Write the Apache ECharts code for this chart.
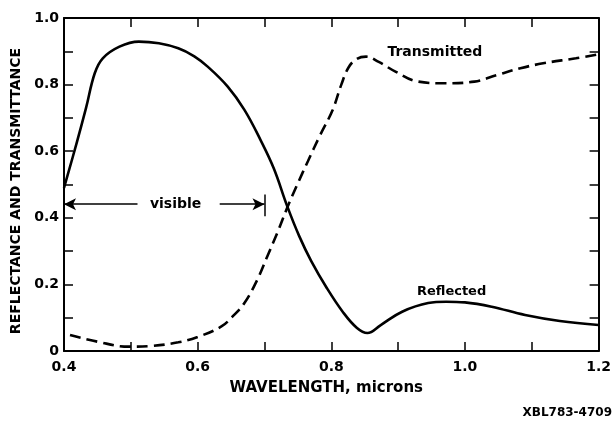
<!DOCTYPE html>
<html>
<head>
<meta charset="utf-8">
<script src="https://cdn.jsdelivr.net/npm/echarts@6/dist/echarts.min.js"></script>
<style>
html,body{margin:0;padding:0;background:#fff;}
#chart{width:614px;height:421px;}
</style>
</head>
<body>
<div id="chart"></div>
<script>
// Wavelength (microns) and values
var reflWave = [0.40,0.419,0.433,0.446,0.458,0.483,0.512,0.542,0.571,0.595,0.615,0.645,0.67,0.694,0.714,0.734,0.752,0.77,0.793,0.817,0.838,0.854,0.874,0.906,0.945,0.972,1.00,1.04,1.09,1.142,1.20];
var reflVals = [0.49,0.625,0.73,0.834,0.879,0.914,0.929,0.924,0.909,0.885,0.854,0.794,0.724,0.634,0.548,0.435,0.345,0.27,0.19,0.118,0.07,0.054,0.078,0.118,0.144,0.148,0.146,0.133,0.108,0.09,0.078];
var transWave = [0.409,0.45,0.497,0.53,0.571,0.60,0.635,0.652,0.670,0.689,0.704,0.719,0.734,0.748,0.765,0.782,0.802,0.815,0.826,0.838,0.852,0.871,0.896,0.93,0.97,1.014,1.048,1.083,1.117,1.166,1.20];
var transVals = [0.048,0.028,0.013,0.015,0.026,0.042,0.073,0.103,0.144,0.213,0.283,0.354,0.43,0.495,0.57,0.643,0.724,0.80,0.852,0.877,0.884,0.868,0.839,0.809,0.804,0.809,0.829,0.849,0.864,0.879,0.891];
var xTickLabels = ['0.4','0.6','0.8','1.0','1.2'];
var yTickLabels = ['0','0.2','0.4','0.6','0.8','1.0'];
var visibleRange = [0.4, 0.7];
var visibleLevel = 0.441;

function pairs(xs, ys){ return xs.map(function(x,i){ return [x, ys[i]]; }); }

var font = '"DejaVu Sans", "Liberation Sans", Arial, sans-serif';
var chart = echarts.init(document.getElementById('chart'));

function xLabel(v){
  var k = Math.round(v*10);
  if (k % 2 !== 0) return '';
  return xTickLabels[(k - 4) / 2] || '';
}
function yLabel(v){
  var k = Math.round(v*10);
  if (k % 2 !== 0) return '';
  return yTickLabels[k/2] || '';
}

var axisLineStyle = {color:'#000', width:2};
var tickStyle = {show:true, inside:true, length:9, lineStyle:{color:'#000', width:1.5}};
function lbl(text, size){
  return {show:true, position:'inside', formatter:text, color:'#000', fontFamily:font, fontWeight:'bold', fontSize:size};
}

chart.setOption({
  animation:false,
  backgroundColor:'#fff',
  grid:{left:64, right:8, top:18, bottom:70},
  xAxis:[{
    type:'value', min:0.4, max:1.2, interval:0.1,
    axisLine:{show:true, onZero:false, lineStyle:axisLineStyle},
    axisTick:tickStyle,
    splitLine:{show:false},
    axisLabel:{formatter:xLabel, color:'#000', fontFamily:font, fontWeight:'bold', fontSize:14, margin:9},
    name:'WAVELENGTH, microns', nameLocation:'middle', nameGap:30,
    nameTextStyle:{color:'#000', fontFamily:font, fontWeight:'bold', fontSize:15, padding:[0,10,0,0]}
  },{
    type:'value', position:'top', min:0.4, max:1.2, interval:0.1,
    axisLine:{show:true, onZero:false, lineStyle:axisLineStyle},
    axisTick:tickStyle, axisLabel:{show:false}, splitLine:{show:false}
  }],
  yAxis:[{
    type:'value', min:0, max:1.0, interval:0.1,
    axisLine:{show:true, onZero:false, lineStyle:axisLineStyle},
    axisTick:tickStyle,
    splitLine:{show:false},
    axisLabel:{formatter:yLabel, color:'#000', fontFamily:font, fontWeight:'bold', fontSize:14, margin:5},
    name:'REFLECTANCE AND TRANSMITTANCE', nameLocation:'middle', nameGap:40,
    nameTextStyle:{color:'#000', fontFamily:font, fontWeight:'bold', fontSize:14, padding:[0,13,0,0]}
  },{
    type:'value', position:'right', min:0, max:1.0, interval:0.1,
    axisLine:{show:true, onZero:false, lineStyle:axisLineStyle},
    axisTick:tickStyle, axisLabel:{show:false}, splitLine:{show:false}
  }],
  series:[{
    name:'Reflected', type:'line', smooth:0.4, showSymbol:false,
    data:pairs(reflWave, reflVals),
    lineStyle:{color:'#000', width:2.6},
    markLine:{
      silent:true, symbol:['arrow','none'], symbolSize:[9,12],
      lineStyle:{color:'#000', width:1.5, type:'solid'},
      label:{show:false},
      data:[
        [{coord:[visibleRange[0], visibleLevel], symbol:'arrow'},{coord:[0.51, visibleLevel], symbol:'none'}],
        [{coord:[0.633, visibleLevel], symbol:'none'},{coord:[visibleRange[1], visibleLevel], symbol:'arrow'}],
        [{coord:[visibleRange[1], 0.405], symbol:'none'},{coord:[visibleRange[1], 0.47], symbol:'none'}]
      ]
    },
    markPoint:{
      silent:true, symbol:'circle', symbolSize:1, itemStyle:{color:'rgba(0,0,0,0)'},
      data:[
        {coord:[0.567, visibleLevel], label:lbl('visible', 14)},
        {coord:[0.98, 0.178], label:lbl('Reflected', 13)}
      ]
    }
  },{
    name:'Transmitted', type:'line', smooth:0.4, showSymbol:false,
    data:pairs(transWave, transVals),
    lineStyle:{color:'#000', width:2.6, type:[11,6]},
    markPoint:{
      silent:true, symbol:'circle', symbolSize:1, itemStyle:{color:'rgba(0,0,0,0)'},
      data:[
        {coord:[0.955, 0.898], label:lbl('Transmitted', 14)}
      ]
    }
  }],
  graphic:[{
    type:'text', right:2, bottom:2,
    style:{text:'XBL783-4709', fill:'#000', font:'bold 12px "DejaVu Sans", Arial, sans-serif'}
  }]
});
</script>
</body>
</html>
